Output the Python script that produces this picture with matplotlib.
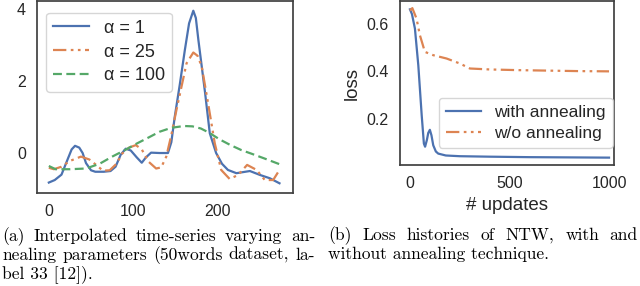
import matplotlib
matplotlib.use("Agg")
import matplotlib.pyplot as plt

# (a) interpolated time-series
t_a1 = [0, 7, 15, 22, 27, 31, 36, 40, 44, 50, 55, 65, 73, 79, 85, 91, 97, 104, 110, 115, 121, 131, 141,
        145, 149, 155, 161, 166, 171, 174, 177, 181, 185, 190.5, 198, 205, 212, 222, 230, 238, 250, 261.5, 273]
y_a1 = [-0.82, -0.75, -0.6, -0.19, 0.1, 0.2, 0.15, 0.0, -0.28, -0.48, -0.52, -0.52, -0.50, -0.38, -0.05, 0.12,
        0.07, -0.12, -0.27, -0.12, 0.01, 0.0, 0.0, 0.3, 1.0, 1.9, 2.86, 3.6, 3.95, 3.75, 3.14, 2.4, 1.66, 0.55,
        0.0, -0.3, -0.47, -0.56, -0.53, -0.5, -0.61, -0.7, -0.84]
t_a25 = [0, 6, 15, 25, 38, 48, 56, 64, 72, 80, 87, 95, 103, 110, 118, 127, 133, 139, 145, 151, 157, 163,
         171, 176, 181, 188.5, 196.4, 204, 214, 224, 234.7, 246, 255.6, 265.5, 273]
y_a25 = [-0.41, -0.45, -0.38, -0.22, -0.1, -0.18, -0.33, -0.49, -0.48, -0.3, -0.01, 0.15, 0.22, 0.1, -0.24,
         -0.43, -0.40, -0.1, 0.5, 1.19, 1.84, 2.49, 2.79, 2.7, 2.4, 1.38, 0.27, -0.47, -0.72, -0.61, -0.33,
         -0.47, -0.75, -0.75, -0.47]
t_a100 = [0, 8, 25, 44, 60, 75, 90, 103, 118, 131, 145, 160, 170, 180, 190, 202, 215, 228, 240, 255, 273]
y_a100 = [-0.36, -0.45, -0.45, -0.43, -0.30, -0.10, 0.08, 0.25, 0.43, 0.59, 0.70, 0.75, 0.74, 0.68, 0.56,
          0.38, 0.22, 0.08, -0.02, -0.15, -0.31]

# (b) loss histories
upd_ann = [0, 10, 25, 42, 59, 70, 76, 85, 92, 100, 108, 117, 130, 142, 180, 250, 400, 600, 800, 1000]
loss_ann = [0.66, 0.64, 0.579, 0.424, 0.214, 0.095, 0.082, 0.11, 0.14, 0.153, 0.13, 0.088, 0.062, 0.053,
            0.045, 0.042, 0.04, 0.038, 0.037, 0.036]
upd_no = [0, 12, 33, 50, 75, 117, 184, 251, 301, 400, 550, 700, 850, 1000]
loss_no = [0.655, 0.665, 0.621, 0.551, 0.481, 0.467, 0.453, 0.432, 0.411, 0.407, 0.404, 0.402, 0.4, 0.399]

cap_a = ["(a) Interpolated time-series varying an-",
         "nealing parameters (50words dataset, la-",
         "bel 33 [12])."]
cap_b = ["(b) Loss histories of NTW, with and",
         "without annealing technique."]

BLUE, ORANGE, GREEN = "#4C72B0", "#DD8452", "#55A868"
DASHDOTDOT = (0, (6, 2, 1.2, 2, 1.2, 2))

plt.rcParams["font.family"] = ["Liberation Sans", "DejaVu Sans"]
plt.rcParams["text.color"] = "#262626"
plt.rcParams["axes.labelcolor"] = "#262626"

W, H = 640, 286
fig = plt.figure(figsize=(6.4, 2.86), dpi=100)

def px_axes(l, t, r, b):
    return fig.add_axes([l / W, 1 - b / H, (r - l) / W, (b - t) / H])

def style(ax):
    for s in ax.spines.values():
        s.set_color("#404040")
        s.set_linewidth(1.25)
    ax.tick_params(length=0, pad=8, labelsize=11.5, colors="#262626")

ax1 = px_axes(37, 1, 293, 193)
ax1.plot(t_a1, y_a1, color=BLUE, lw=1.6, label="α = 1")
ax1.plot(t_a25, y_a25, color=ORANGE, lw=1.6, ls=DASHDOTDOT, label="α = 25")
ax1.plot(t_a100, y_a100, color=GREEN, lw=1.6, ls=(0, (4, 2)), label="α = 100")
ax1.set_xlim(-14, 289)
ax1.set_ylim(-1.11, 4.22)
ax1.set_xticks([0, 100, 200])
ax1.set_yticks([0, 2, 4])
style(ax1)
ax1.legend(loc="upper left", bbox_to_anchor=(0.035, 0.94), borderaxespad=0, fontsize=13,
           labelspacing=0.38, edgecolor="#cccccc", fancybox=True)

ax2 = px_axes(400, 1, 614, 165)
ax2.plot(upd_ann, loss_ann, color=BLUE, lw=1.6, label="with annealing")
ax2.plot(upd_no, loss_no, color=ORANGE, lw=1.6, ls=DASHDOTDOT, label="w/o annealing")
ax2.set_xlim(-50, 1025)
ax2.set_ylim(0.005, 0.695)
ax2.set_xticks([0, 500, 1000])
ax2.set_yticks([0.2, 0.4, 0.6])
style(ax2)
ax2.set_xlabel("# updates", fontsize=13.5, labelpad=4)
ax2.set_ylabel("loss", fontsize=13.5, labelpad=4)
ax2.legend(loc="lower right", bbox_to_anchor=(0.995, 0.104), borderaxespad=0, fontsize=12.5,
           labelspacing=0.35, edgecolor="#cccccc", fancybox=True)

# captions, justified by hand like the LaTeX source
renderer = fig.canvas.get_renderer()
cap_font = dict(family=["cmr10", "DejaVu Serif"], fontsize=12.6, color="black", va="baseline")

def put_line(text, x0, x1, y, justify):
    if not justify:
        fig.text(x0 / W, 1 - y / H, text, **cap_font)
        return
    words = text.split(" ")
    items = [fig.text(0, 1 - y / H, w, **cap_font) for w in words]
    widths = [it.get_window_extent(renderer).width for it in items]
    gap = (x1 - x0 - sum(widths)) / (len(words) - 1)
    x = x0
    for it, w in zip(items, widths):
        it.set_x(x / W)
        x += w + gap

put_line(cap_a[0], 2, 315, 241, True)
put_line(cap_a[1], 2, 315, 260, True)
put_line(cap_a[2], 2, 315, 278, False)
put_line(cap_b[0], 328, 638, 240, True)
put_line(cap_b[1], 328, 638, 259, False)

fig.savefig("out.png", dpi=100)
